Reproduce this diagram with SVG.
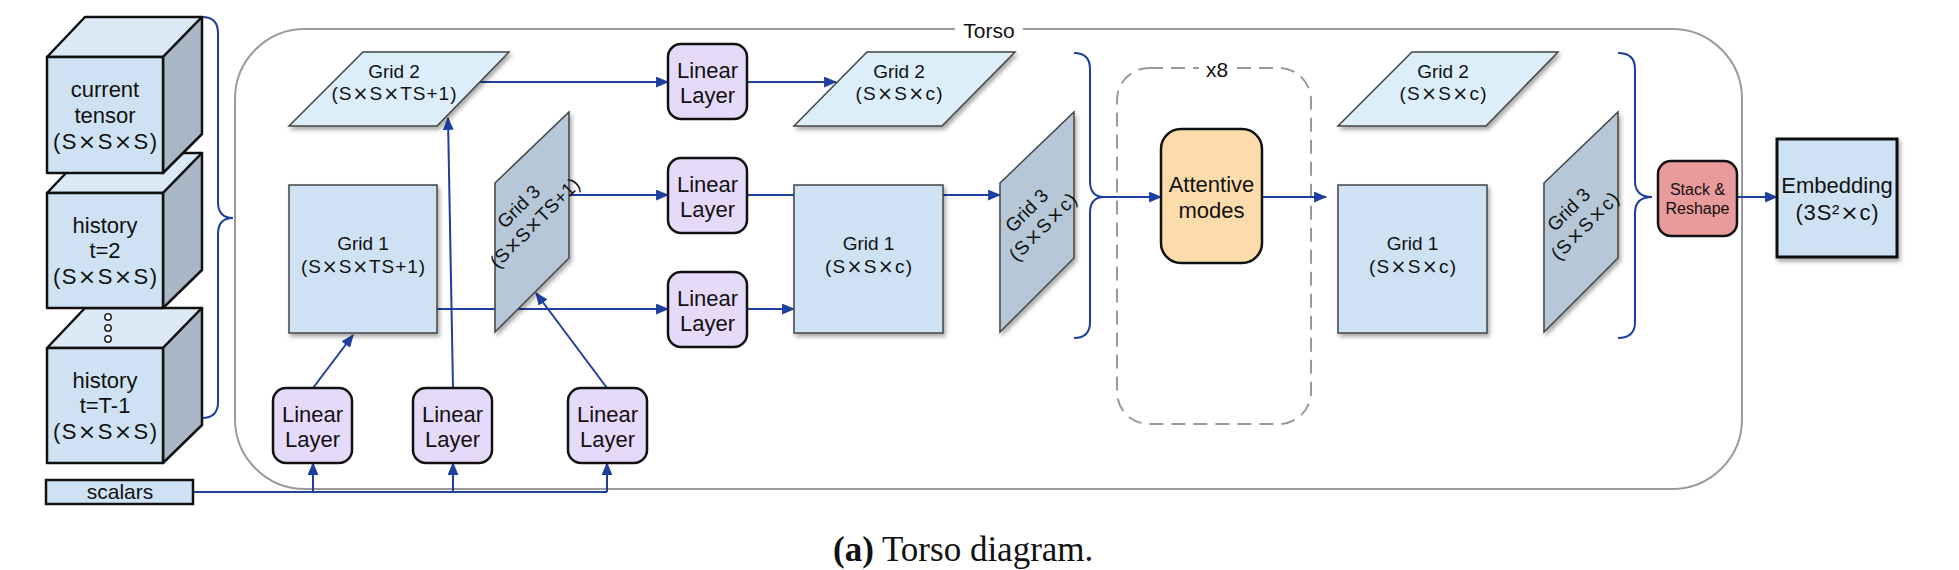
<svg xmlns="http://www.w3.org/2000/svg" width="1959" height="570" viewBox="0 0 1959 570">
<defs>
<marker id="ah" viewBox="0 0 12 10" refX="11" refY="5" markerWidth="13" markerHeight="11" markerUnits="userSpaceOnUse" orient="auto"><path d="M0,0 L12,5 L0,10 z" fill="#1f3f9f"/></marker>
<filter id="sh" x="-15%" y="-15%" width="140%" height="140%"><feDropShadow dx="2" dy="3" stdDeviation="2" flood-color="#000" flood-opacity="0.35"/></filter>
</defs>
<style>
text{font-family:"Liberation Sans",Arial,sans-serif;fill:#111;text-anchor:middle}
.x{font-family:"DejaVu Sans",sans-serif}
.c{fill:none;stroke:#1f3f9f;stroke-width:2}
.a{marker-end:url(#ah)}
.ll{fill:#e6dafb;stroke:#111;stroke-width:2.5}
.g1{fill:#cfe2f3;stroke:#444;stroke-width:1.5;filter:url(#sh)}
.g2{fill:#ddeefb;stroke:#444;stroke-width:1.5;filter:url(#sh)}
.g3{fill:#b6c7d8;stroke:#444;stroke-width:1.5;filter:url(#sh)}
.cf{fill:#cfe2f3;stroke:#111;stroke-width:2.5;stroke-linejoin:round}
.ct{fill:#dce9f6;stroke:#111;stroke-width:2.5;stroke-linejoin:round}
.cs{fill:#a9b7c6;stroke:#111;stroke-width:2.5;stroke-linejoin:round}
.f22{font-size:22px}
.f19{font-size:19px}
.f21{font-size:21px}
.f16{font-size:16px}
</style>

<g id="torso">
<rect x="235" y="29" width="1507" height="460" rx="70" fill="none" stroke="#9a9a9a" stroke-width="2"/>
<rect x="955" y="20" width="68" height="20" fill="#fff"/>
<text x="989" y="38" class="f21">Torso</text>
</g>

<g id="repeat">
<rect x="1117" y="68" width="194" height="356" rx="32" fill="none" stroke="#9a9a9a" stroke-width="2" stroke-dasharray="14 8"/>
<rect x="1199" y="60" width="37" height="16" fill="#fff"/>
<text x="1217" y="77" class="f21">x8</text>
</g>

<g id="connectors">
<path class="c" d="M202,17 Q218,17 218,33 L218,202 Q218,218 233,218 Q218,218 218,234 L218,402 Q218,418 202,418"/>
<path class="c" d="M1074,53 Q1090,53 1090,69 L1090,181 Q1090,197 1104,197 Q1090,197 1090,213 L1090,322 Q1090,338 1074,338"/>
<path class="c" d="M1618,53 Q1635,53 1635,69 L1635,181 Q1635,197 1652,197 Q1635,197 1635,213 L1635,322 Q1635,338 1618,338"/>
<path class="c" d="M193,492 L607,492"/>
<path class="c a" d="M313,492 L313,463"/>
<path class="c a" d="M453,492 L453,463"/>
<path class="c a" d="M607,492 L607,463"/>
<path class="c a" d="M313,388 L353,335"/>
<path class="c a" d="M453,388 L448,118"/>
<path class="c a" d="M607,388 L536,293"/>
<path class="c a" d="M480,82 L668,82"/>
<path class="c a" d="M569,195 L668,195"/>
<path class="c a" d="M437,309 L668,309"/>
<path class="c a" d="M747,82 L836,82"/>
<path class="c" d="M747,195 L794,195"/>
<path class="c a" d="M943,195 L1000,195"/>
<path class="c a" d="M747,309 L794,309"/>
<path class="c a" d="M1104,197 L1161,197"/>
<path class="c a" d="M1262,197 L1326,197"/>
<path class="c a" d="M1737,197 L1777,197"/>
</g>

<g id="cube3">
<polygon class="ct" points="47,348 85,308 202,308 163,348"/>
<polygon class="cs" points="163,348 202,308 202,425 163,463"/>
<rect class="cf" x="47" y="348" width="116" height="115"/>
<text x="105" y="388" class="f22">history</text>
<text x="105" y="413" class="f22">t=T-1</text>
<text x="105" y="439" class="f22" textLength="104" lengthAdjust="spacing">(S<tspan class="x">×</tspan>S<tspan class="x">×</tspan>S)</text>
</g>
<g id="dots">
<circle cx="108" cy="317" r="3.2" fill="#fff" stroke="#222" stroke-width="1.5"/>
<circle cx="108" cy="328" r="3.2" fill="#fff" stroke="#222" stroke-width="1.5"/>
<circle cx="108" cy="339" r="3.2" fill="#fff" stroke="#222" stroke-width="1.5"/>
</g>
<g id="cube2">
<polygon class="ct" points="47,193 85,153 202,153 163,193"/>
<polygon class="cs" points="163,193 202,153 202,270 163,308"/>
<rect class="cf" x="47" y="193" width="116" height="115"/>
<text x="105" y="233" class="f22">history</text>
<text x="105" y="258" class="f22">t=2</text>
<text x="105" y="284" class="f22" textLength="104" lengthAdjust="spacing">(S<tspan class="x">×</tspan>S<tspan class="x">×</tspan>S)</text>
</g>
<g id="cube1">
<polygon class="ct" points="47,57 85,17 202,17 163,57"/>
<polygon class="cs" points="163,57 202,17 202,134 163,173"/>
<rect class="cf" x="47" y="57" width="116" height="116"/>
<text x="105" y="97" class="f22">current</text>
<text x="105" y="123" class="f22">tensor</text>
<text x="105" y="149" class="f22" textLength="104" lengthAdjust="spacing">(S<tspan class="x">×</tspan>S<tspan class="x">×</tspan>S)</text>
</g>

<g id="scalars">
<rect x="46" y="480" width="147" height="24" fill="#cfe2f3" stroke="#111" stroke-width="2.5"/>
<text x="120" y="499" class="f21">scalars</text>
</g>

<g id="ll-a"><rect class="ll" x="273" y="388" width="79" height="75" rx="13"/><text x="312.5" y="422" class="f22">Linear</text><text x="312.5" y="447" class="f22">Layer</text></g>
<g id="ll-b"><rect class="ll" x="413" y="388" width="79" height="75" rx="13"/><text x="452.5" y="422" class="f22">Linear</text><text x="452.5" y="447" class="f22">Layer</text></g>
<g id="ll-c"><rect class="ll" x="568" y="388" width="79" height="75" rx="13"/><text x="607.5" y="422" class="f22">Linear</text><text x="607.5" y="447" class="f22">Layer</text></g>

<g id="grid2-in">
<polygon class="g2" points="363,52 509,52 437,126 289,126"/>
<text x="394" y="78" class="f19">Grid 2</text>
<text x="394" y="100" class="f19" textLength="125" lengthAdjust="spacing">(S<tspan class="x">×</tspan>S<tspan class="x">×</tspan>TS+1)</text>
</g>
<g id="grid1-in">
<rect class="g1" x="289" y="185" width="148" height="148"/>
<text x="363" y="250" class="f19">Grid 1</text>
<text x="363" y="273" class="f19" textLength="124" lengthAdjust="spacing">(S<tspan class="x">×</tspan>S<tspan class="x">×</tspan>TS+1)</text>
</g>
<g id="grid3-in">
<polygon class="g3" points="495,183 569,112 569,258 495,332"/>
<g transform="translate(526,214) rotate(-45)">
<text x="0" y="-4" class="f19">Grid 3</text>
<text x="0" y="19" class="f19" textLength="118" lengthAdjust="spacing">(S<tspan class="x">×</tspan>S<tspan class="x">×</tspan>TS+1)</text>
</g>
</g>

<g id="ll-1"><rect class="ll" x="668" y="44" width="79" height="75" rx="13"/><text x="707.5" y="78" class="f22">Linear</text><text x="707.5" y="103" class="f22">Layer</text></g>
<g id="ll-2"><rect class="ll" x="668" y="158" width="79" height="75" rx="13"/><text x="707.5" y="192" class="f22">Linear</text><text x="707.5" y="217" class="f22">Layer</text></g>
<g id="ll-3"><rect class="ll" x="668" y="272" width="79" height="75" rx="13"/><text x="707.5" y="306" class="f22">Linear</text><text x="707.5" y="331" class="f22">Layer</text></g>

<g id="grid2-mid">
<polygon class="g2" points="867,52 1015,52 942,126 794,126"/>
<text x="899" y="78" class="f19">Grid 2</text>
<text x="899" y="100" class="f19" textLength="87" lengthAdjust="spacing">(S<tspan class="x">×</tspan>S<tspan class="x">×</tspan>c)</text>
</g>
<g id="grid1-mid">
<rect class="g1" x="794" y="185" width="149" height="148"/>
<text x="868.5" y="250" class="f19">Grid 1</text>
<text x="868.5" y="273" class="f19" textLength="87" lengthAdjust="spacing">(S<tspan class="x">×</tspan>S<tspan class="x">×</tspan>c)</text>
</g>
<g id="grid3-mid">
<polygon class="g3" points="1000,183 1074,112 1074,258 1000,332"/>
<g transform="translate(1034,218) rotate(-45)">
<text x="0" y="-4" class="f19">Grid 3</text>
<text x="0" y="19" class="f19" textLength="87" lengthAdjust="spacing">(S<tspan class="x">×</tspan>S<tspan class="x">×</tspan>c)</text>
</g>
</g>

<g id="attentive">
<rect x="1161" y="129" width="101" height="134" rx="20" fill="#fcdcaa" stroke="#111" stroke-width="2.5"/>
<text x="1211.5" y="192" class="f22">Attentive</text>
<text x="1211.5" y="218" class="f22">modes</text>
</g>

<g id="grid2-out">
<polygon class="g2" points="1412,52 1558,52 1486,126 1338,126"/>
<text x="1443" y="78" class="f19">Grid 2</text>
<text x="1443" y="100" class="f19" textLength="87" lengthAdjust="spacing">(S<tspan class="x">×</tspan>S<tspan class="x">×</tspan>c)</text>
</g>
<g id="grid1-out">
<rect class="g1" x="1338" y="185" width="149" height="148"/>
<text x="1412.5" y="250" class="f19">Grid 1</text>
<text x="1412.5" y="273" class="f19" textLength="87" lengthAdjust="spacing">(S<tspan class="x">×</tspan>S<tspan class="x">×</tspan>c)</text>
</g>
<g id="grid3-out">
<polygon class="g3" points="1544,183 1618,112 1618,258 1544,332"/>
<g transform="translate(1576,217) rotate(-45)">
<text x="0" y="-4" class="f19">Grid 3</text>
<text x="0" y="19" class="f19" textLength="87" lengthAdjust="spacing">(S<tspan class="x">×</tspan>S<tspan class="x">×</tspan>c)</text>
</g>
</g>

<g id="stack">
<rect x="1658" y="161" width="79" height="75" rx="13" fill="#e99a9b" stroke="#111" stroke-width="2.5"/>
<text x="1697.5" y="195" class="f16">Stack &amp;</text>
<text x="1697.5" y="214" class="f16">Reshape</text>
</g>

<g id="embedding">
<rect x="1777" y="139" width="120" height="118" fill="#cfe2f3" stroke="#111" stroke-width="3" filter="url(#sh)"/>
<text x="1837" y="193" class="f22">Embedding</text>
<text x="1837" y="220" class="f22" textLength="83" lengthAdjust="spacing">(3S²<tspan class="x">×</tspan>c)</text>
</g>

<g id="caption">
<text x="833" y="561" style="font-family:'Liberation Serif','Times New Roman',serif;font-size:35px;text-anchor:start"><tspan font-weight="bold">(a)</tspan> Torso diagram.</text>
</g>
</svg>
